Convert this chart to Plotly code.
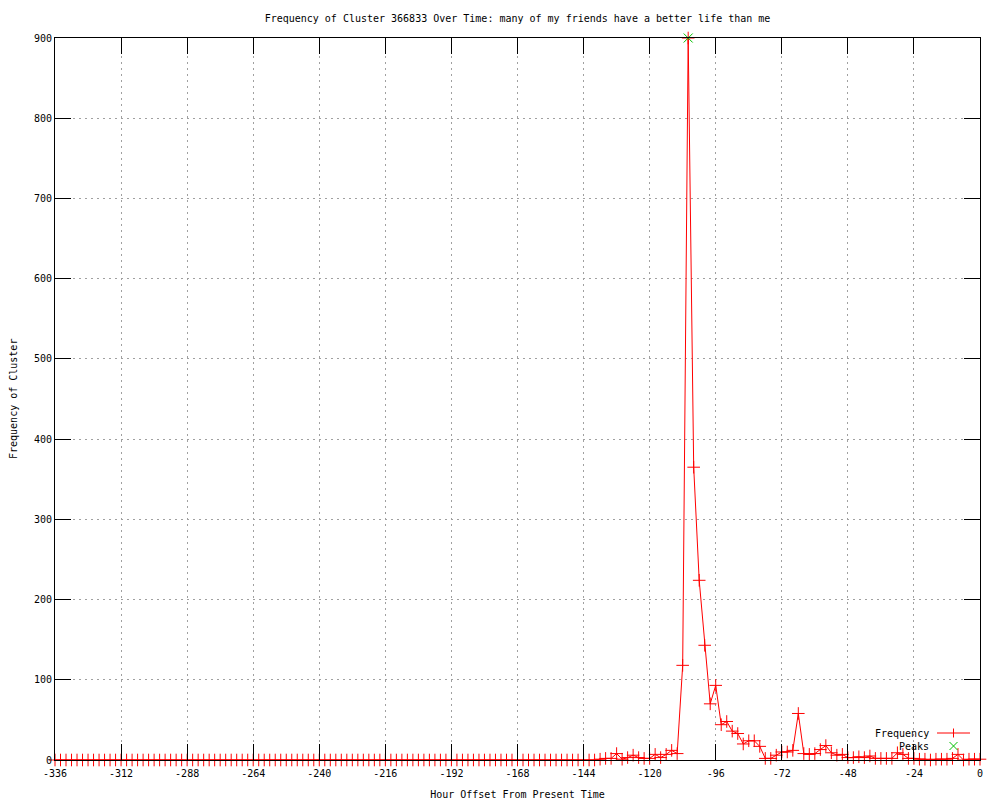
import plotly.graph_objects as go

# ---- data ----
hours = list(range(-336, 1, 2))  # hour offsets, every 2 hours

frequency = [
    0, 0, 0, 0, 0, 0, 0, 0, 0, 0, 0,
    0, 0, 0, 0, 0, 0, 0, 0, 0, 0, 0,
    0, 0, 0, 0, 0, 0, 0, 0, 0, 0, 0,
    0, 0, 0, 0, 0, 0, 0, 0, 0, 0, 0,
    0, 0, 0, 0, 0, 0, 0, 0, 0, 0, 0,
    0, 0, 0, 0, 0, 0, 0, 0, 0, 0, 0,
    0, 0, 0, 0, 0, 0, 0, 0, 0, 0, 0,
    0, 0, 0, 0, 0, 0, 0, 0, 0, 0, 0,
    0, 0, 0, 0, 0, 0, 0, 0, 0, 0, 0,   # -336 .. -140
    1, 2, 2, 8, 1, 3, 6, 3, 2, 2,          # -138 .. -120
    7, 3, 7, 12, 8, 118, 900, 365, 224, 143,  # -118 .. -100
    70, 93, 44, 48, 36, 33, 20, 24, 24, 17,   # -98 .. -80
    2, 2, 6, 10, 10, 12, 58, 8, 7, 8,         # -78 .. -60
    13, 18, 9, 6, 7, 3, 3, 4, 3, 5,           # -58 .. -40
    2, 2, 2, 2, 9, 7, 2, 2, 1, 1,             # -38 .. -20
    0, 1, 1, 1, 2, 7, 0, 1, 1, 1,             # -18 .. 0
]

peak_hours = [-106]
peak_values = [900]

x_tick_values = list(range(-336, 1, 24))
x_tick_labels = [str(v) for v in x_tick_values]
y_tick_values = list(range(0, 901, 100))
y_tick_labels = [str(v) for v in y_tick_values]

title_text = "Frequency of Cluster 366833 Over Time: many of my friends have a better life than me"
x_title = "Hour Offset From Present Time"
y_title = "Frequency of Cluster"

FONT = "DejaVu Sans Mono"
FS = 10

fig = go.Figure()
fig.add_trace(go.Scatter(
    x=hours, y=frequency, mode="lines+markers", name="Frequency",
    line=dict(color="#ff0000", width=1),
    marker=dict(symbol="cross-thin", size=9, line=dict(color="#ff0000", width=1), color="#ff0000"),
    cliponaxis=False, showlegend=False,
))
fig.add_trace(go.Scatter(
    x=peak_hours, y=peak_values, mode="markers", name="Peaks",
    marker=dict(symbol="x-thin", size=9, line=dict(color="#00c000", width=1), color="#00c000"),
    cliponaxis=False, showlegend=False,
))

axis_common = dict(
    showline=True, linecolor="black", linewidth=1, mirror="ticks",
    ticks="inside", ticklen=16, tickcolor="black", tickwidth=1,
    showgrid=True, gridcolor="#a0a0a0", griddash="2px,4px", gridwidth=1,
    zeroline=False, automargin=False,
    tickfont=dict(family=FONT, size=FS, color="black"),
)

fig.update_xaxes(
    range=[-336, 0], tickmode="array", tickvals=x_tick_values, ticktext=x_tick_labels,
    ticklabelstandoff=4,
    title=dict(text=x_title, font=dict(family=FONT, size=FS, color="black"), standoff=15),
    **axis_common,
)
fig.update_yaxes(
    range=[0, 900], tickmode="array", tickvals=y_tick_values, ticktext=y_tick_labels,
    **axis_common,
)


def px_x(p):
    return (p - 55) / 925.0


def px_y(p):
    return (760 - p) / 722.0


fig.add_annotation(xref="paper", yref="paper", x=px_x(13), y=px_y(399), text=y_title,
                   textangle=-90, showarrow=False, xanchor="center", yanchor="middle",
                   font=dict(family=FONT, size=FS, color="black"))

# gnuplot-style legend (text right-aligned, sample to the right)
legend_font = dict(family=FONT, size=FS, color="black")
fig.add_annotation(xref="paper", yref="paper", x=px_x(931), y=px_y(733), text="Frequency",
                   showarrow=False, xanchor="right", yanchor="middle", font=legend_font)
fig.add_shape(type="line", xref="paper", yref="paper", x0=px_x(937), x1=px_x(970), y0=px_y(733), y1=px_y(733),
              line=dict(color="#ff0000", width=1))
fig.add_shape(type="line", xref="paper", yref="paper", x0=px_x(953.5), x1=px_x(953.5), y0=px_y(728.5), y1=px_y(737.5),
              line=dict(color="#ff0000", width=1))
fig.add_annotation(xref="paper", yref="paper", x=px_x(931), y=px_y(746), text="Peaks",
                   showarrow=False, xanchor="right", yanchor="middle", font=legend_font)
fig.add_shape(type="line", xref="paper", yref="paper", x0=px_x(949.5), x1=px_x(957.5), y0=px_y(742), y1=px_y(750),
              line=dict(color="#00c000", width=1))
fig.add_shape(type="line", xref="paper", yref="paper", x0=px_x(949.5), x1=px_x(957.5), y0=px_y(750), y1=px_y(742),
              line=dict(color="#00c000", width=1))

fig.update_layout(
    width=1000, height=800,
    margin=dict(l=55, r=20, t=38, b=40),
    paper_bgcolor="white", plot_bgcolor="white",
    title=dict(text=title_text, x=0.5175, xanchor="center", y=0.9775, yanchor="middle",
               font=dict(family=FONT, size=FS, color="black")),
    showlegend=False,
)

fig.write_html("out.html", config={"displayModeBar": False},
               post_script="document.body.style.margin='0';")
